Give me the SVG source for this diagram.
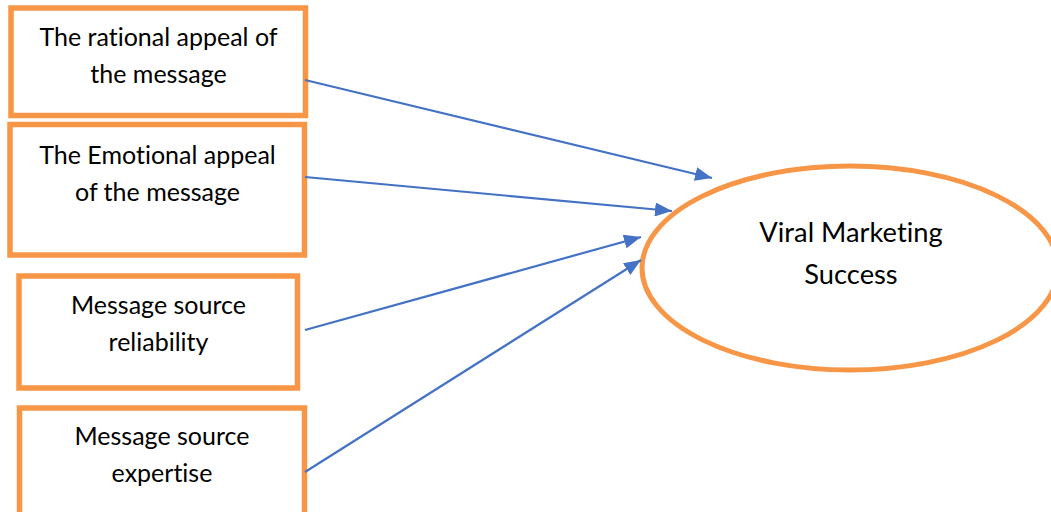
<svg xmlns="http://www.w3.org/2000/svg" width="1051" height="512" viewBox="0 0 1051 512">
<style>
.box{fill:#fff;stroke:#F79646;stroke-width:5.5}
.t{font-family:Lato,"Liberation Sans",sans-serif;font-size:25px;fill:#000;text-anchor:middle;font-variant-ligatures:none}
.big{font-size:27.3px}
.c{stroke:#4472C4;stroke-width:2.2;fill:none}
</style>
<defs>
<marker id="ah" viewBox="0 0 17 14" refX="17" refY="7" markerWidth="17" markerHeight="14" markerUnits="userSpaceOnUse" orient="auto">
<path d="M0,0 L17,7 L0,14 Z" fill="#4472C4"/>
</marker>
</defs>
<rect width="1051" height="512" fill="#fff"/>
<g id="n1">
<rect class="box" x="11" y="8" width="294.5" height="107.5"/>
<text class="t" x="158.5" y="46">The rational appeal of</text>
<text class="t" x="158.5" y="83">the message</text>
</g>
<g id="n2">
<rect class="box" x="10" y="124.5" width="294.5" height="130.5"/>
<text class="t" x="157.5" y="164">The Emotional appeal</text>
<text class="t" x="157.5" y="201">of the message</text>
</g>
<g id="n3">
<rect class="box" x="19" y="276" width="278.5" height="112"/>
<text class="t" x="158.5" y="314">Message source</text>
<text class="t" x="158.5" y="351">reliability</text>
</g>
<g id="n4">
<rect class="box" x="19.5" y="408" width="285" height="110"/>
<text class="t" x="162" y="445">Message source</text>
<text class="t" x="162" y="482">expertise</text>
</g>
<g id="n5">
<ellipse cx="850" cy="268" rx="208" ry="102" fill="#fff" stroke="#F79646" stroke-width="5"/>
<text class="t big" x="851" y="242">Viral Marketing</text>
<text class="t big" x="851" y="284">Success</text>
</g>
<g id="connectors">
<line class="c" x1="305" y1="80" x2="712" y2="178" marker-end="url(#ah)"/>
<line class="c" x1="305" y1="177" x2="672" y2="211" marker-end="url(#ah)"/>
<line class="c" x1="305" y1="330" x2="641" y2="237" marker-end="url(#ah)"/>
<line class="c" x1="305" y1="472" x2="641" y2="260" marker-end="url(#ah)"/>
</g>
</svg>
